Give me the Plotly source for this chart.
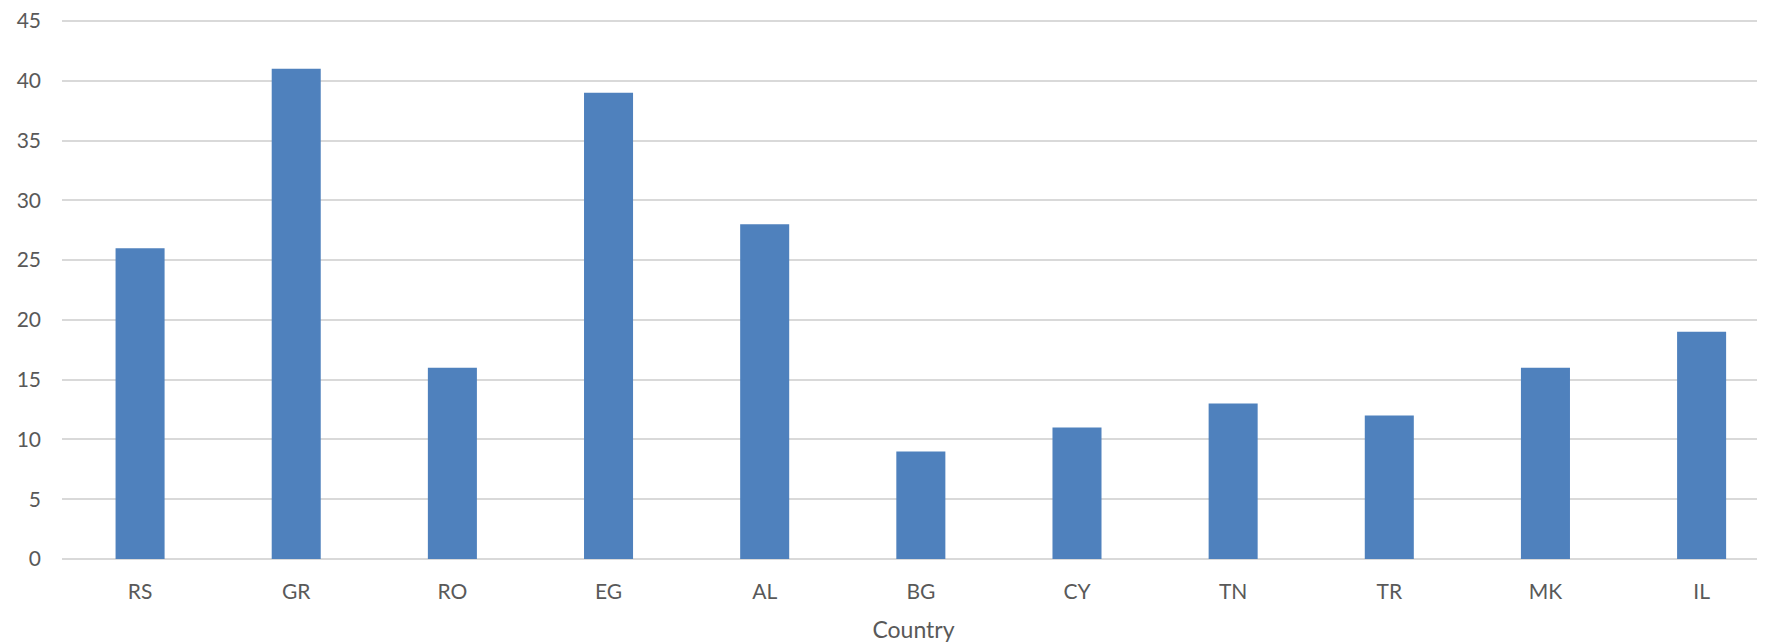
import plotly.graph_objects as go

countries = ["RS", "GR", "RO", "EG", "AL", "BG", "CY", "TN", "TR", "MK", "IL"]
counts = [26, 41, 16, 39, 28, 9, 11, 13, 12, 16, 19]
y_ticks = [0, 5, 10, 15, 20, 25, 30, 35, 40, 45]

fig = go.Figure(go.Bar(x=countries, y=counts, marker=dict(color="#4f81bd", line=dict(width=0))))

font_family = "Lato, Open Sans, sans-serif"
# page body has an 8px default margin, so margins are reduced by 8px to compensate
fig.update_layout(
    width=1765, height=643,
    margin=dict(l=54, r=8, t=11, b=92),
    plot_bgcolor="white", paper_bgcolor="white",
    bargap=0.686,
    showlegend=False,
    font=dict(family=font_family, color="#595959", size=21),
)
fig.update_xaxes(
    range=[-0.5, 10.406], automargin=False,
    showgrid=False, showline=False, zeroline=False,
    ticks="", ticklabelstandoff=18,
    tickfont=dict(size=21, color="#595959"),
    title=dict(text="Country", font=dict(size=23, color="#595959"), standoff=19),
)
fig.update_yaxes(
    range=[0, 45.17], tickvals=y_ticks, automargin=False,
    ticklabeloverflow="allow",
    showgrid=True, gridcolor="#d9d9d9", gridwidth=2,
    zeroline=True, zerolinecolor="#d9d9d9", zerolinewidth=2,
    showline=False, ticks="", ticklabelstandoff=20,
    tickfont=dict(size=21, color="#595959"),
)
fig.write_html("out.html")
